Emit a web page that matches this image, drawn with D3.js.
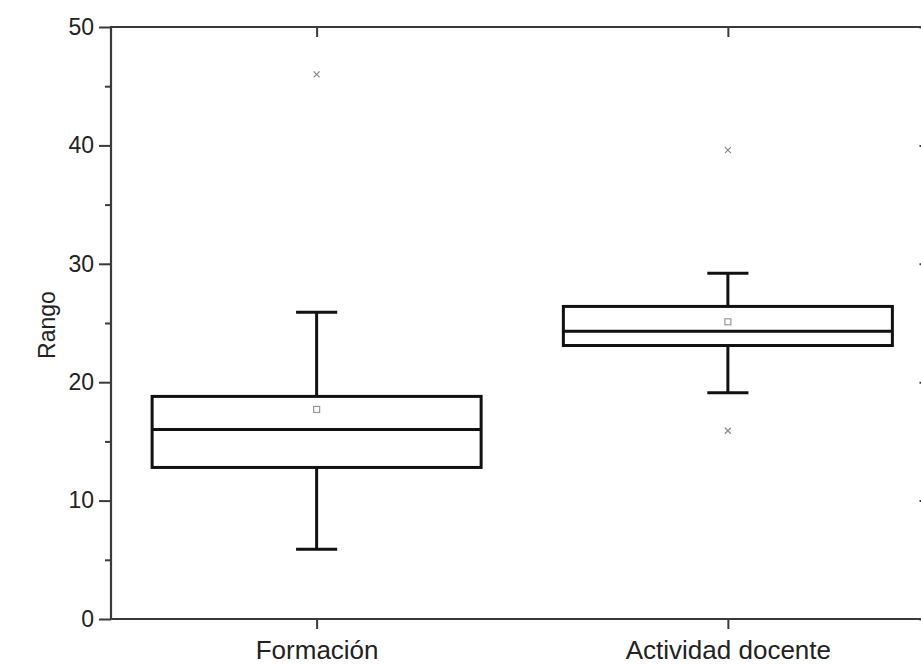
<!DOCTYPE html>
<html>
<head>
<meta charset="utf-8">
<script src="https://cdn.jsdelivr.net/npm/d3@7"></script>
<style>
  body { margin: 0; background: #fff; }
  text { font-family: "Liberation Sans", Arial, sans-serif; fill: #222; }
</style>
</head>
<body>
<div class="container"></div>
<script>
const categories = ["Formación", "Actividad docente"];
const whiskerLow = [5.9, 19.1];
const q1 = [12.8, 23.1];
const median = [16.0, 24.3];
const q3 = [18.8, 26.4];
const whiskerHigh = [25.9, 29.2];
const means = [17.7, 25.1];
const outliers = [[46.0], [39.6, 15.9]];
const yTicks = [0, 10, 20, 30, 40, 50];
const yMinor = [5, 15, 25, 35, 45];

const width = 921;
const height = 666;

const svg = d3.select("div.container")
    .append("svg")
    .attr("width", width)
    .attr("height", height);

const plotLeft = 111, plotRight = 933.5, plotTop = 27, plotBottom = 619;

const x = d3.scaleLinear().domain([0.5, 2.5]).range([plotLeft, plotRight]);
const y = d3.scaleLinear().domain([0, 50]).range([plotBottom, plotTop]);

const frame = "#3a3a3a";
const font = "Liberation Sans, Arial, sans-serif";

// left axis, ticks out
svg.append("g")
    .attr("transform", `translate(${plotLeft},0)`)
    .call(d3.axisLeft(y).tickValues(yTicks).tickSize(12).tickPadding(5))
    .call(g => g.select(".domain").remove())
    .call(g => g.selectAll("line").attr("stroke", frame).attr("stroke-width", 2))
    .call(g => g.selectAll("text").attr("font-size", 23).style("font-family", font).attr("fill", "#222"));

svg.append("g")
    .attr("transform", `translate(${plotLeft},0)`)
    .call(d3.axisLeft(y).tickValues(yMinor).tickSize(6).tickFormat(""))
    .call(g => g.select(".domain").remove())
    .call(g => g.selectAll("line").attr("stroke", frame).attr("stroke-width", 2));

// right axis, ticks in
svg.append("g")
    .attr("transform", `translate(${plotRight},0)`)
    .call(d3.axisLeft(y).tickValues(yTicks).tickSize(14).tickFormat(""))
    .call(g => g.select(".domain").remove())
    .call(g => g.selectAll("line").attr("stroke", frame).attr("stroke-width", 2));

// bottom axis, ticks out
svg.append("g")
    .attr("transform", `translate(0,${plotBottom})`)
    .call(d3.axisBottom(x).tickValues([1, 2]).tickSize(10)
        .tickFormat(d => categories[d - 1]))
    .call(g => g.select(".domain").remove())
    .call(g => g.selectAll("line").attr("stroke", frame).attr("stroke-width", 2))
    .call(g => g.selectAll("text").attr("font-size", 26).attr("y", 40).attr("dy", 0)
        .style("font-family", font).attr("fill", "#222"));

// top axis, ticks in
svg.append("g")
    .attr("transform", `translate(0,${plotTop})`)
    .call(d3.axisBottom(x).tickValues([1, 2]).tickSize(10).tickFormat(""))
    .call(g => g.select(".domain").remove())
    .call(g => g.selectAll("line").attr("stroke", frame).attr("stroke-width", 2));

// frame
svg.append("path")
    .attr("d", `M${plotLeft},${plotBottom}V${plotTop}H${width + 5}M${plotLeft},${plotBottom}H${width + 5}`)
    .attr("fill", "none")
    .attr("stroke", frame)
    .attr("stroke-width", 2.2);

// y label
svg.append("text")
    .attr("transform", `translate(55,${(plotTop + plotBottom) / 2 + 2}) rotate(-90)`)
    .attr("text-anchor", "middle")
    .attr("font-size", 23)
    .text("Rango");

const halfBox = 0.4;
const halfCap = 0.05;

const boxes = svg.append("g")
    .selectAll("g")
    .data(categories)
    .enter()
    .append("g");

boxes.append("line")
    .attr("x1", (d, i) => x(i + 1)).attr("x2", (d, i) => x(i + 1))
    .attr("y1", (d, i) => y(q3[i])).attr("y2", (d, i) => y(whiskerHigh[i]))
    .attr("stroke", "#111").attr("stroke-width", 3);

boxes.append("line")
    .attr("x1", (d, i) => x(i + 1)).attr("x2", (d, i) => x(i + 1))
    .attr("y1", (d, i) => y(q1[i])).attr("y2", (d, i) => y(whiskerLow[i]))
    .attr("stroke", "#111").attr("stroke-width", 3);

boxes.append("line")
    .attr("x1", (d, i) => x(i + 1 - halfCap)).attr("x2", (d, i) => x(i + 1 + halfCap))
    .attr("y1", (d, i) => y(whiskerHigh[i])).attr("y2", (d, i) => y(whiskerHigh[i]))
    .attr("stroke", "#111").attr("stroke-width", 3);

boxes.append("line")
    .attr("x1", (d, i) => x(i + 1 - halfCap)).attr("x2", (d, i) => x(i + 1 + halfCap))
    .attr("y1", (d, i) => y(whiskerLow[i])).attr("y2", (d, i) => y(whiskerLow[i]))
    .attr("stroke", "#111").attr("stroke-width", 3);

boxes.append("rect")
    .attr("x", (d, i) => x(i + 1 - halfBox))
    .attr("width", (d, i) => x(i + 1 + halfBox) - x(i + 1 - halfBox))
    .attr("y", (d, i) => y(q3[i]))
    .attr("height", (d, i) => y(q1[i]) - y(q3[i]))
    .attr("fill", "#fff")
    .attr("stroke", "#111").attr("stroke-width", 3);

boxes.append("line")
    .attr("x1", (d, i) => x(i + 1 - halfBox)).attr("x2", (d, i) => x(i + 1 + halfBox))
    .attr("y1", (d, i) => y(median[i])).attr("y2", (d, i) => y(median[i]))
    .attr("stroke", "#111").attr("stroke-width", 3);

// mean markers
boxes.append("rect")
    .attr("x", (d, i) => x(i + 1) - 3)
    .attr("y", (d, i) => y(means[i]) - 3)
    .attr("width", 6).attr("height", 6)
    .attr("fill", "none")
    .attr("stroke", "#999").attr("stroke-width", 1.2);

// outliers
const outPts = [];
outliers.forEach((vals, i) => vals.forEach(v => outPts.push({ c: i + 1, v: v })));

svg.append("g")
    .selectAll("path")
    .data(outPts)
    .enter()
    .append("path")
    .attr("d", d => {
        const cx = x(d.c), cy = y(d.v), r = 3;
        return `M${cx - r},${cy - r}L${cx + r},${cy + r}M${cx - r},${cy + r}L${cx + r},${cy - r}`;
    })
    .attr("stroke", "#888")
    .attr("stroke-width", 1.2);
</script>
</body>
</html>
